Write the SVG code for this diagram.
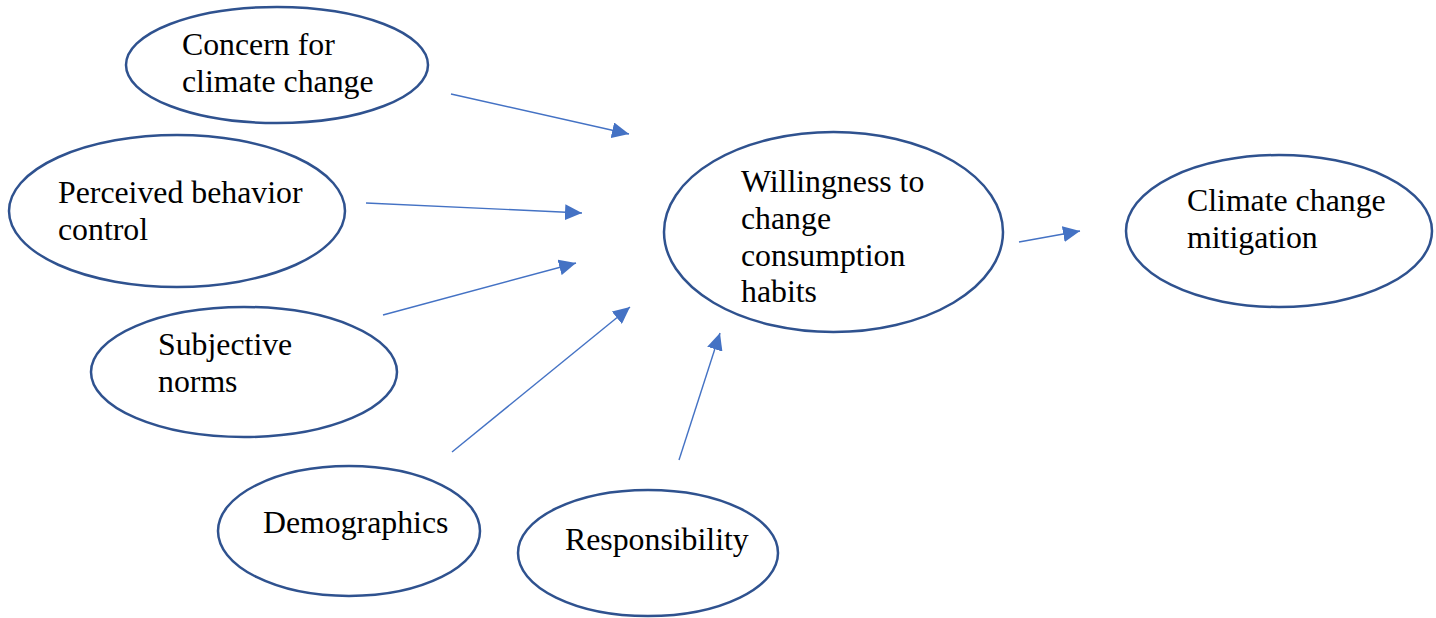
<svg xmlns="http://www.w3.org/2000/svg" width="1436" height="618" viewBox="0 0 1436 618">
  <style>
    .node ellipse { fill: #ffffff; stroke: #2F528F; stroke-width: 2.5; }
    .node text { font-family: "Liberation Serif", "Times New Roman", serif; font-size: 31.8px; fill: #000000; }
    .edge { stroke: #4472C4; stroke-width: 1.4; fill: none; marker-end: url(#arrow); }
  </style>
  <defs>
    <marker id="arrow" markerUnits="userSpaceOnUse" markerWidth="18" markerHeight="16" viewBox="0 0 18 16" refX="17" refY="8" orient="auto">
      <path d="M0,0 L17,8 L0,16 Z" fill="#4472C4"/>
    </marker>
  </defs>

  <rect width="1436" height="618" fill="#ffffff"/>

  <g id="connectors">
    <line class="edge" x1="451" y1="94" x2="629" y2="134"/>
    <line class="edge" x1="366" y1="203" x2="582" y2="213"/>
    <line class="edge" x1="383" y1="315" x2="576" y2="263"/>
    <line class="edge" x1="452" y1="452" x2="630" y2="307"/>
    <line class="edge" x1="679" y1="460" x2="720" y2="333"/>
    <line class="edge" x1="1019" y1="242" x2="1080" y2="231"/>
  </g>

  <g id="concern" class="node">
    <ellipse cx="277" cy="65" rx="151" ry="58"/>
    <text x="182" y="55">Concern for</text>
    <text x="182" y="92">climate change</text>
  </g>

  <g id="perceived" class="node">
    <ellipse cx="177" cy="211" rx="168" ry="76"/>
    <text x="58" y="203">Perceived behavior</text>
    <text x="58" y="240">control</text>
  </g>

  <g id="subjective" class="node">
    <ellipse cx="244" cy="372" rx="153" ry="65"/>
    <text x="158" y="355">Subjective</text>
    <text x="158" y="392">norms</text>
  </g>

  <g id="demographics" class="node">
    <ellipse cx="349" cy="531" rx="131" ry="65"/>
    <text x="263" y="533">Demographics</text>
  </g>

  <g id="responsibility" class="node">
    <ellipse cx="648" cy="553" rx="130" ry="63"/>
    <text x="565" y="550">Responsibility</text>
  </g>

  <g id="willingness" class="node">
    <ellipse cx="833.5" cy="232" rx="169.5" ry="100"/>
    <text x="741" y="192">Willingness to</text>
    <text x="741" y="229">change</text>
    <text x="741" y="266">consumption</text>
    <text x="741" y="302">habits</text>
  </g>

  <g id="mitigation" class="node">
    <ellipse cx="1279" cy="231" rx="153" ry="76"/>
    <text x="1187" y="211">Climate change</text>
    <text x="1187" y="248">mitigation</text>
  </g>
</svg>
